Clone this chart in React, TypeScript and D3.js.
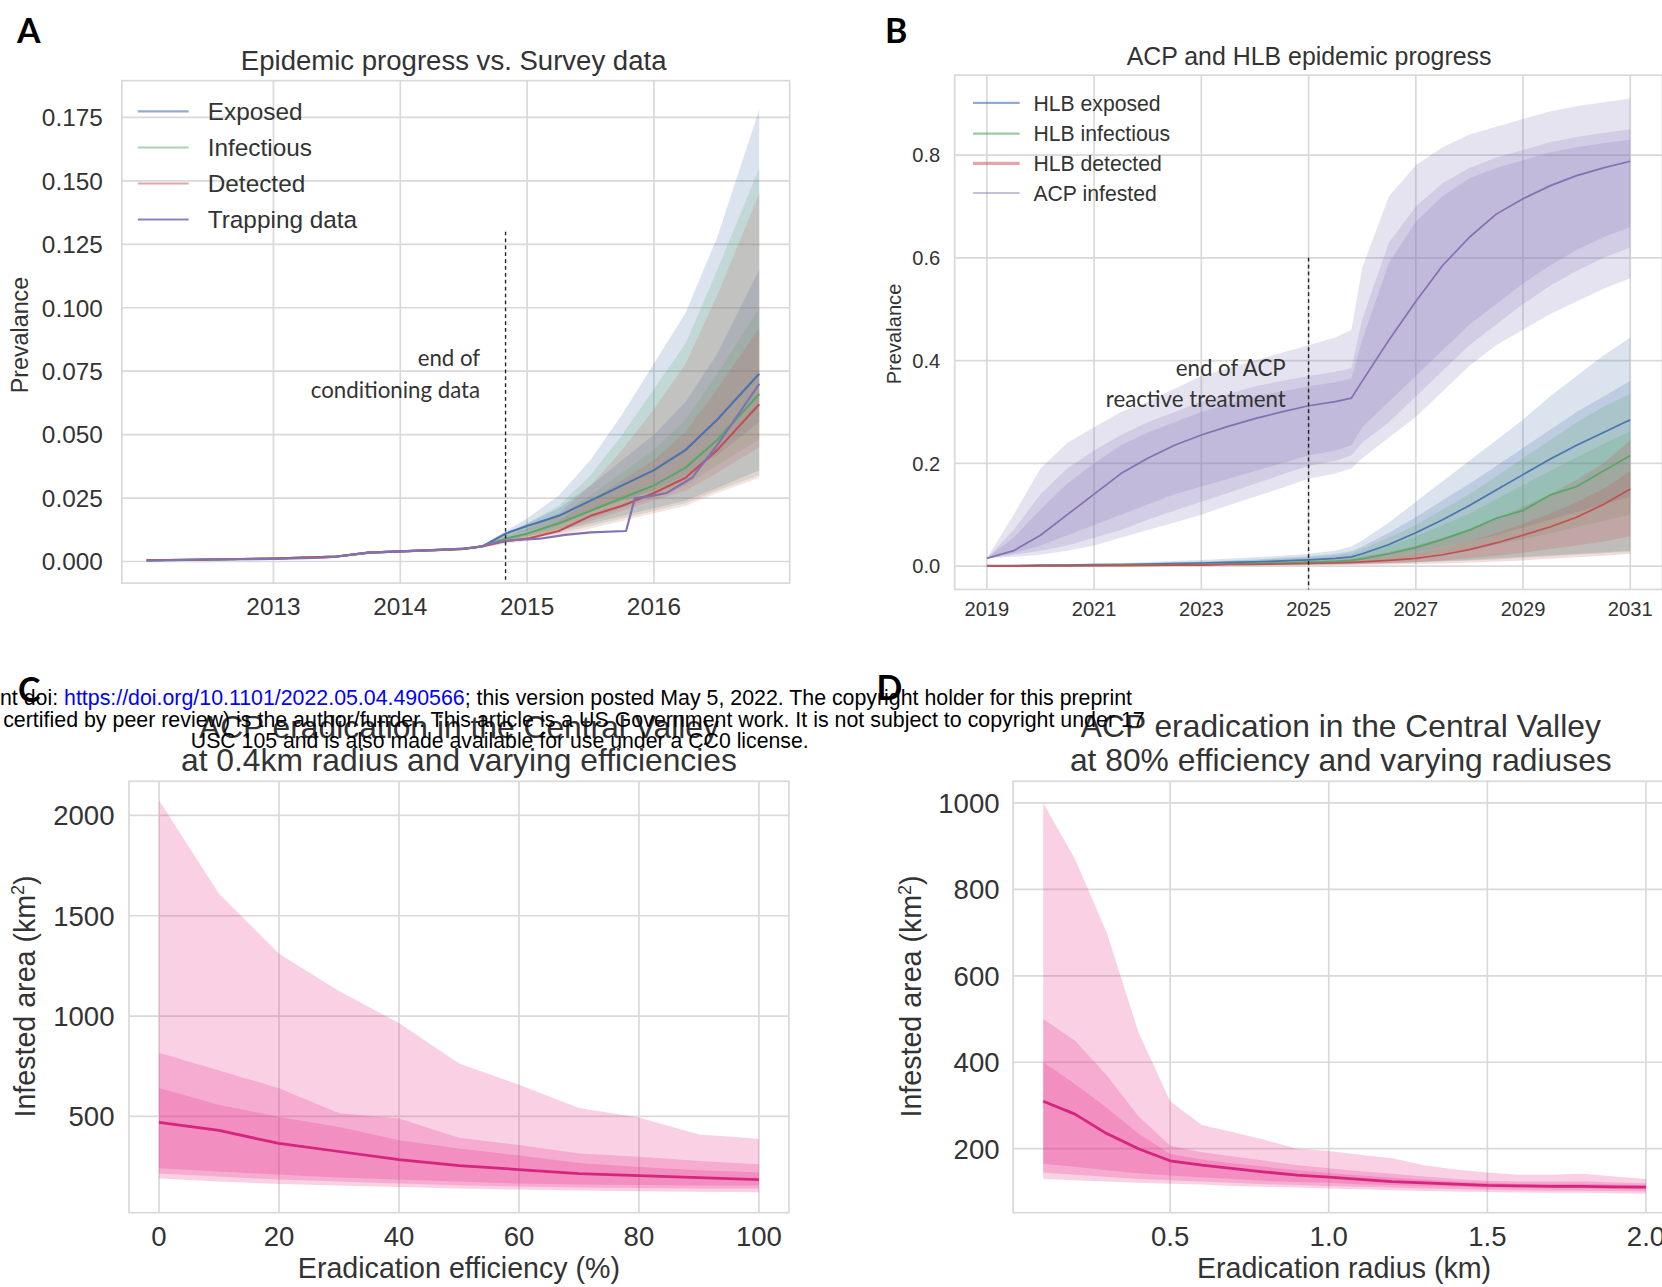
import React from 'react';
import * as d3 from 'd3';

// ---------- Panel A: epidemic progress vs. survey data ----------
const yearsA = [2012.0, 2012.5, 2013.0, 2013.5, 2013.75, 2014.0, 2014.5, 2014.65, 2014.83, 2015.0, 2015.25, 2015.5, 2015.75, 2016.0, 2016.25, 2016.5, 2016.83];

const exposedMedA = [0.0005, 0.0008, 0.0012, 0.002, 0.0035, 0.004, 0.005, 0.006, 0.011, 0.014, 0.018, 0.024, 0.030, 0.036, 0.044, 0.056, 0.074];
const exposedLo95A = [0.0005, 0.0008, 0.0012, 0.002, 0.0035, 0.004, 0.005, 0.0055, 0.008, 0.010, 0.012, 0.015, 0.018, 0.021, 0.024, 0.029, 0.036];
const exposedHi95A = [0.0005, 0.0008, 0.0012, 0.002, 0.0035, 0.004, 0.005, 0.0065, 0.012, 0.017, 0.026, 0.040, 0.058, 0.078, 0.098, 0.128, 0.178];
const exposedLo50A = [0.0005, 0.0008, 0.0012, 0.002, 0.0035, 0.004, 0.005, 0.006, 0.010, 0.012, 0.015, 0.020, 0.024, 0.028, 0.034, 0.042, 0.055];
const exposedHi50A = [0.0005, 0.0008, 0.0012, 0.002, 0.0035, 0.004, 0.005, 0.006, 0.011, 0.015, 0.021, 0.030, 0.040, 0.050, 0.063, 0.082, 0.115];

const infectiousMedA = [0.0005, 0.0008, 0.0012, 0.002, 0.0035, 0.004, 0.005, 0.006, 0.009, 0.011, 0.015, 0.020, 0.025, 0.030, 0.037, 0.048, 0.066];
const infectiousLo95A = [0.0005, 0.0008, 0.0012, 0.002, 0.0035, 0.004, 0.005, 0.0055, 0.008, 0.009, 0.011, 0.014, 0.017, 0.020, 0.023, 0.028, 0.034];
const infectiousHi95A = [0.0005, 0.0008, 0.0012, 0.002, 0.0035, 0.004, 0.005, 0.0065, 0.011, 0.015, 0.022, 0.034, 0.050, 0.068, 0.086, 0.115, 0.155];
const infectiousLo50A = [0.0005, 0.0008, 0.0012, 0.002, 0.0035, 0.004, 0.005, 0.006, 0.008, 0.010, 0.013, 0.017, 0.021, 0.025, 0.030, 0.038, 0.048];
const infectiousHi50A = [0.0005, 0.0008, 0.0012, 0.002, 0.0035, 0.004, 0.005, 0.006, 0.010, 0.013, 0.018, 0.026, 0.035, 0.044, 0.056, 0.074, 0.100];

const detectedMedA = [0.0005, 0.0008, 0.0012, 0.002, 0.0035, 0.004, 0.005, 0.006, 0.008, 0.009, 0.012, 0.018, 0.022, 0.027, 0.033, 0.044, 0.062];
const detectedLo95A = [0.0005, 0.0008, 0.0012, 0.002, 0.0035, 0.004, 0.005, 0.0055, 0.007, 0.008, 0.010, 0.013, 0.016, 0.019, 0.022, 0.027, 0.033];
const detectedHi95A = [0.0005, 0.0008, 0.0012, 0.002, 0.0035, 0.004, 0.005, 0.0065, 0.010, 0.013, 0.019, 0.030, 0.044, 0.060, 0.078, 0.105, 0.145];
const detectedLo50A = [0.0005, 0.0008, 0.0012, 0.002, 0.0035, 0.004, 0.005, 0.006, 0.008, 0.009, 0.012, 0.016, 0.020, 0.024, 0.028, 0.035, 0.045];
const detectedHi50A = [0.0005, 0.0008, 0.0012, 0.002, 0.0035, 0.004, 0.005, 0.006, 0.009, 0.011, 0.016, 0.024, 0.032, 0.040, 0.051, 0.068, 0.092];

const trapYearsA = [2012.0, 2012.5, 2013.0, 2013.4, 2013.5, 2013.75, 2014.0, 2014.3, 2014.6, 2014.75, 2014.9, 2015.1, 2015.3, 2015.5, 2015.78, 2015.85, 2016.0, 2016.1, 2016.3, 2016.5, 2016.83];
const trapValsA = [0.0003, 0.0008, 0.0010, 0.0015, 0.002, 0.0035, 0.004, 0.0045, 0.0055, 0.0075, 0.0085, 0.009, 0.0105, 0.0115, 0.012, 0.025, 0.026, 0.027, 0.033, 0.046, 0.070];

const xTicksA = [2013, 2014, 2015, 2016];
const yTicksA = [0, 0.025, 0.05, 0.075, 0.1, 0.125, 0.15, 0.175];

// ---------- Panel B: ACP and HLB epidemic progress ----------
const yearsB = [2019, 2019.5, 2020, 2020.5, 2021, 2021.5, 2022, 2022.5, 2023, 2023.5, 2024, 2024.5, 2025, 2025.5, 2025.8, 2026, 2026.5, 2027, 2027.5, 2028, 2028.5, 2029, 2029.5, 2030, 2030.5, 2031];

const acpMedB = [0.015, 0.03, 0.06, 0.10, 0.14, 0.18, 0.21, 0.235, 0.255, 0.272, 0.287, 0.30, 0.312, 0.32, 0.327, 0.36, 0.44, 0.515, 0.585, 0.64, 0.685, 0.715, 0.74, 0.76, 0.775, 0.788];
const acpLo95B = [0.015, 0.018, 0.022, 0.03, 0.04, 0.055, 0.07, 0.085, 0.10, 0.118, 0.135, 0.152, 0.17, 0.18, 0.19, 0.21, 0.25, 0.29, 0.34, 0.39, 0.43, 0.46, 0.49, 0.515, 0.54, 0.56];
const acpHi95B = [0.015, 0.10, 0.19, 0.24, 0.27, 0.30, 0.32, 0.345, 0.37, 0.385, 0.40, 0.415, 0.43, 0.445, 0.46, 0.58, 0.72, 0.78, 0.815, 0.84, 0.855, 0.87, 0.885, 0.895, 0.903, 0.91];
const acpLo80B = [0.015, 0.022, 0.03, 0.04, 0.055, 0.07, 0.09, 0.108, 0.125, 0.142, 0.16, 0.178, 0.195, 0.205, 0.215, 0.24, 0.28, 0.33, 0.38, 0.43, 0.47, 0.51, 0.545, 0.575, 0.60, 0.62];
const acpHi80B = [0.015, 0.07, 0.14, 0.19, 0.225, 0.255, 0.28, 0.30, 0.32, 0.335, 0.35, 0.36, 0.37, 0.378, 0.385, 0.48, 0.63, 0.70, 0.745, 0.775, 0.795, 0.81, 0.825, 0.835, 0.843, 0.85];
const acpLo50B = [0.015, 0.025, 0.04, 0.06, 0.08, 0.10, 0.12, 0.14, 0.155, 0.17, 0.185, 0.20, 0.215, 0.225, 0.235, 0.27, 0.32, 0.37, 0.42, 0.47, 0.51, 0.55, 0.585, 0.615, 0.64, 0.66];
const acpHi50B = [0.015, 0.055, 0.11, 0.16, 0.20, 0.235, 0.26, 0.28, 0.30, 0.315, 0.33, 0.34, 0.35, 0.358, 0.365, 0.44, 0.59, 0.67, 0.72, 0.755, 0.775, 0.79, 0.805, 0.815, 0.823, 0.83];

const hlbExposedMedB = [0.001, 0.001, 0.002, 0.002, 0.003, 0.003, 0.004, 0.005, 0.006, 0.007, 0.008, 0.010, 0.012, 0.015, 0.018, 0.024, 0.042, 0.065, 0.090, 0.118, 0.148, 0.178, 0.208, 0.235, 0.260, 0.285];
const hlbExposedLo95B = [0, 0, 0, 0, 0, 0, 0.001, 0.001, 0.001, 0.002, 0.002, 0.003, 0.003, 0.004, 0.004, 0.005, 0.006, 0.008, 0.010, 0.012, 0.015, 0.018, 0.021, 0.024, 0.027, 0.030];
const hlbExposedHi95B = [0.001, 0.002, 0.003, 0.004, 0.005, 0.006, 0.008, 0.010, 0.012, 0.014, 0.017, 0.020, 0.024, 0.030, 0.038, 0.050, 0.085, 0.125, 0.165, 0.205, 0.245, 0.285, 0.330, 0.370, 0.410, 0.445];
const hlbExposedLo50B = [0.0005, 0.0005, 0.001, 0.001, 0.0015, 0.002, 0.002, 0.003, 0.003, 0.004, 0.005, 0.006, 0.007, 0.008, 0.010, 0.012, 0.018, 0.026, 0.036, 0.048, 0.060, 0.075, 0.090, 0.105, 0.120, 0.135];
const hlbExposedHi50B = [0.001, 0.0015, 0.0025, 0.003, 0.004, 0.005, 0.006, 0.008, 0.009, 0.011, 0.013, 0.016, 0.019, 0.024, 0.029, 0.038, 0.065, 0.095, 0.128, 0.160, 0.195, 0.230, 0.265, 0.300, 0.330, 0.360];

const hlbInfectiousMedB = [0, 0.0005, 0.001, 0.001, 0.0015, 0.002, 0.002, 0.003, 0.003, 0.004, 0.005, 0.006, 0.007, 0.009, 0.011, 0.014, 0.024, 0.036, 0.052, 0.070, 0.093, 0.108, 0.138, 0.155, 0.185, 0.215];
const hlbInfectiousLo95B = [0, 0, 0, 0, 0, 0, 0.0005, 0.001, 0.001, 0.001, 0.002, 0.002, 0.002, 0.003, 0.003, 0.004, 0.005, 0.007, 0.009, 0.011, 0.013, 0.016, 0.019, 0.022, 0.025, 0.028];
const hlbInfectiousHi95B = [0.001, 0.001, 0.002, 0.003, 0.004, 0.005, 0.006, 0.007, 0.008, 0.010, 0.012, 0.014, 0.017, 0.021, 0.025, 0.033, 0.055, 0.080, 0.110, 0.140, 0.175, 0.210, 0.245, 0.280, 0.310, 0.335];
const hlbInfectiousLo50B = [0, 0.0005, 0.0005, 0.001, 0.001, 0.0015, 0.0015, 0.002, 0.002, 0.003, 0.003, 0.004, 0.005, 0.006, 0.007, 0.009, 0.012, 0.017, 0.024, 0.032, 0.042, 0.052, 0.064, 0.076, 0.088, 0.100];
const hlbInfectiousHi50B = [0.0005, 0.001, 0.0015, 0.002, 0.003, 0.003, 0.004, 0.005, 0.006, 0.007, 0.008, 0.010, 0.012, 0.015, 0.018, 0.024, 0.040, 0.058, 0.080, 0.102, 0.130, 0.158, 0.185, 0.212, 0.238, 0.262];

const hlbDetectedMedB = [0, 0, 0.0005, 0.0005, 0.001, 0.001, 0.0015, 0.002, 0.002, 0.003, 0.003, 0.004, 0.005, 0.006, 0.007, 0.008, 0.011, 0.015, 0.022, 0.032, 0.045, 0.060, 0.076, 0.095, 0.120, 0.150];
const hlbDetectedLo95B = [0, 0, 0, 0, 0, 0, 0, 0.0005, 0.0005, 0.001, 0.001, 0.001, 0.0015, 0.002, 0.002, 0.0025, 0.003, 0.004, 0.005, 0.007, 0.009, 0.011, 0.014, 0.017, 0.020, 0.024];
const hlbDetectedHi95B = [0.0005, 0.001, 0.0015, 0.002, 0.002, 0.003, 0.003, 0.004, 0.005, 0.006, 0.007, 0.008, 0.010, 0.012, 0.014, 0.018, 0.028, 0.040, 0.055, 0.072, 0.092, 0.115, 0.140, 0.168, 0.200, 0.245];
const hlbDetectedLo50B = [0, 0, 0, 0.0005, 0.0005, 0.0005, 0.001, 0.001, 0.001, 0.0015, 0.002, 0.002, 0.003, 0.003, 0.004, 0.004, 0.006, 0.008, 0.011, 0.015, 0.020, 0.026, 0.033, 0.040, 0.048, 0.058];
const hlbDetectedHi50B = [0, 0.0005, 0.001, 0.001, 0.0015, 0.002, 0.002, 0.003, 0.003, 0.004, 0.005, 0.006, 0.007, 0.008, 0.010, 0.012, 0.018, 0.025, 0.035, 0.048, 0.064, 0.082, 0.102, 0.124, 0.150, 0.185];

const xTicksB = [2019, 2021, 2023, 2025, 2027, 2029, 2031];
const yTicksB = [0, 0.2, 0.4, 0.6, 0.8];

// ---------- Panel C: eradication at 0.4 km, varying efficiency ----------
const effC = [0, 10, 20, 30, 40, 50, 60, 70, 80, 90, 100];
const medC = [470, 430, 365, 325, 285, 255, 235, 215, 205, 195, 185];
const hi95C = [2076, 1610, 1310, 1125, 965, 764, 658, 542, 495, 410, 389];
const hi80C = [817, 729, 640, 515, 489, 394, 357, 315, 299, 278, 262];
const hi50C = [641, 557, 497, 447, 381, 340, 305, 268, 248, 232, 220];
const lo50C = [241, 225, 210, 195, 185, 175, 165, 160, 158, 156, 155];
const lo80C = [215, 200, 185, 175, 165, 157, 150, 146, 143, 141, 140];
const lo95C = [190, 175, 163, 155, 148, 140, 135, 130, 127, 124, 122];
const xTicksC = [0, 20, 40, 60, 80, 100];
const yTicksC = [500, 1000, 1500, 2000];

// ---------- Panel D: eradication at 80 %, varying radius ----------
const radD = [0.1, 0.2, 0.3, 0.4, 0.5, 0.6, 0.7, 0.8, 0.9, 1.0, 1.1, 1.2, 1.3, 1.4, 1.5, 1.6, 1.7, 1.8, 1.9, 2.0];
const medD = [310, 280, 235, 200, 172, 162, 154, 146, 139, 134, 129, 124, 121, 118, 115, 114, 113, 113, 112, 111];
const hi95D = [1000, 870, 700, 470, 310, 255, 238, 220, 200, 195, 186, 178, 162, 152, 145, 140, 140, 142, 136, 130];
const hi80D = [500, 450, 370, 275, 207, 192, 182, 172, 162, 155, 148, 142, 136, 130, 126, 124, 124, 125, 122, 120];
const hi50D = [400, 350, 295, 235, 188, 175, 166, 158, 150, 144, 138, 133, 128, 124, 121, 119, 119, 119, 117, 116];
const lo50D = [165, 158, 150, 143, 138, 134, 130, 126, 123, 121, 118, 116, 114, 112, 110, 109, 108, 108, 107, 106];
const lo80D = [145, 140, 135, 130, 127, 124, 121, 118, 116, 114, 112, 110, 108, 107, 105, 104, 103, 103, 102, 101];
const lo95D = [130, 127, 124, 121, 119, 117, 114, 112, 110, 108, 106, 104, 102, 101, 100, 99, 98, 98, 97, 96];
const xTicksD = [0.5, 1.0, 1.5, 2.0];
const yTicksD = [200, 400, 600, 800, 1000];

// ---------- styling ----------
const FONT = '"Liberation Sans", Arial, sans-serif';
const ANNOT_FONT = 'Lato, "Open Sans", sans-serif';
const TEXT = '#333333';
const GRID = '#d9d9d9';
const BLUE = '#4C72B0';
const GREEN = '#55A868';
const RED = '#C44E52';
const PURPLE = '#8172B2';
const PINK = '#e7298a';
const PINK_LINE = '#d6247f';

type Band = [number[], number[]];
interface Series {
  xs: number[];
  med: number[];
  bands: Band[];
  color: string;
  lineColor?: string;
  bandOpacity: number;
  lineWidth: number;
}
interface LegendItem { label: string; color: string; opacity: number; width: number }
interface PanelCfg {
  xDomain: [number, number]; xRange: [number, number];
  yDomain: [number, number]; yRange: [number, number];
  xTicks: number[]; yTicks: number[];
  xFmt: (v: number) => string; yFmt: (v: number) => string;
  tickSize: number; yTickX: number; xTickY: number;
  series: Series[];
  title: string[]; titleX: number; titleY: number[]; titleSize: number;
  yLabel: string; yLabelSup?: boolean; yLabelX: number; yLabelY: number; yLabelSize: number;
  xLabel?: string; xLabelX?: number; xLabelY?: number; xLabelSize?: number;
  letter: string; letterX: number; letterY: number;
  vline?: { at: number; top: number; text: string[]; textX: number; textY: number[] };
  legend?: { x0: number; x1: number; tx: number; ys: number[]; size: number; items: LegendItem[] };
}

const panels: PanelCfg[] = [
  {
    xDomain: [2011.805, 2017.07], xRange: [115, 745],
    yDomain: [-0.0085, 0.1895], yRange: [550, 76],
    xTicks: xTicksA, yTicks: yTicksA,
    xFmt: d => String(d), yFmt: d3.format('.3f'),
    tickSize: 23, yTickX: 97, xTickY: 580,
    series: [
      { xs: yearsA, med: exposedMedA, bands: [[exposedLo95A, exposedHi95A], [exposedLo50A, exposedHi50A]], color: BLUE, bandOpacity: 0.2, lineWidth: 2 },
      { xs: yearsA, med: infectiousMedA, bands: [[infectiousLo95A, infectiousHi95A], [infectiousLo50A, infectiousHi50A]], color: GREEN, bandOpacity: 0.18, lineWidth: 2 },
      { xs: yearsA, med: detectedMedA, bands: [[detectedLo95A, detectedHi95A], [detectedLo50A, detectedHi50A]], color: RED, bandOpacity: 0.16, lineWidth: 2 },
      { xs: trapYearsA, med: trapValsA, bands: [], color: PURPLE, bandOpacity: 0, lineWidth: 2 },
    ],
    title: ['Epidemic progress vs. Survey data'], titleX: 428, titleY: [66], titleSize: 26,
    yLabel: 'Prevalance', yLabelX: 26, yLabelY: 316, yLabelSize: 22,
    letter: 'A', letterX: 16, letterY: 40,
    vline: { at: 2014.83, top: 0.13, text: ['end of', 'conditioning data'], textX: 453, textY: [345, 375] },
    legend: {
      x0: 130, x1: 178, tx: 196, ys: [105, 139, 173, 207], size: 23,
      items: [
        { label: 'Exposed', color: BLUE, opacity: 0.6, width: 2 },
        { label: 'Infectious', color: GREEN, opacity: 0.5, width: 2 },
        { label: 'Detected', color: RED, opacity: 0.5, width: 2 },
        { label: 'Trapping data', color: PURPLE, opacity: 0.9, width: 2 },
      ],
    },
  },
  {
    xDomain: [2018.4, 2031.6], xRange: [900.7, 1568.4],
    yDomain: [-0.0455, 0.9555], yRange: [556, 70.8],
    xTicks: xTicksB, yTicks: yTicksB,
    xFmt: d => String(d), yFmt: d3.format('.1f'),
    tickSize: 19, yTickX: 887, xTickY: 581,
    series: [
      { xs: yearsB, med: acpMedB, bands: [[acpLo95B, acpHi95B], [acpLo80B, acpHi80B], [acpLo50B, acpHi50B]], color: PURPLE, bandOpacity: 0.2, lineWidth: 1.6 },
      { xs: yearsB, med: hlbExposedMedB, bands: [[hlbExposedLo95B, hlbExposedHi95B], [hlbExposedLo50B, hlbExposedHi50B]], color: BLUE, bandOpacity: 0.2, lineWidth: 1.6 },
      { xs: yearsB, med: hlbInfectiousMedB, bands: [[hlbInfectiousLo95B, hlbInfectiousHi95B], [hlbInfectiousLo50B, hlbInfectiousHi50B]], color: GREEN, bandOpacity: 0.2, lineWidth: 1.6 },
      { xs: yearsB, med: hlbDetectedMedB, bands: [[hlbDetectedLo95B, hlbDetectedHi95B], [hlbDetectedLo50B, hlbDetectedHi50B]], color: RED, bandOpacity: 0.2, lineWidth: 1.6 },
    ],
    title: ['ACP and HLB epidemic progress'], titleX: 1235, titleY: [61], titleSize: 23.5,
    yLabel: 'Prevalance', yLabelX: 850, yLabelY: 315, yLabelSize: 19,
    letter: 'B', letterX: 835, letterY: 40,
    vline: { at: 2025, top: 0.6, text: ['end of ACP', 'reactive treatment'], textX: 1213, textY: [355, 384] },
    legend: {
      x0: 918, x1: 962, tx: 975, ys: [97, 126, 154, 182], size: 20,
      items: [
        { label: 'HLB exposed', color: BLUE, opacity: 0.6, width: 2 },
        { label: 'HLB infectious', color: GREEN, opacity: 0.6, width: 2 },
        { label: 'HLB detected', color: RED, opacity: 0.5, width: 3 },
        { label: 'ACP infested', color: PURPLE, opacity: 0.45, width: 2 },
      ],
    },
  },
  {
    xDomain: [-5, 105], xRange: [121.7, 744.3],
    yDomain: [20, 2170], yRange: [1144, 737],
    xTicks: xTicksC, yTicks: yTicksC,
    xFmt: d3.format('d'), yFmt: d3.format('d'),
    tickSize: 26, yTickX: 108, xTickY: 1175,
    series: [
      { xs: effC, med: medC, bands: [[lo95C, hi95C], [lo80C, hi80C], [lo50C, hi50C]], color: PINK, lineColor: PINK_LINE, bandOpacity: 0.22, lineWidth: 2.6 },
    ],
    title: ['ACP eradication in the Central Valley', 'at 0.4km radius and varying efficiencies'], titleX: 433, titleY: [696, 727], titleSize: 30,
    yLabel: 'Infested area (km', yLabelSup: true, yLabelX: 33, yLabelY: 940, yLabelSize: 27,
    xLabel: 'Eradication efficiency (%)', xLabelX: 433, xLabelY: 1206, xLabelSize: 27,
    letter: 'C', letterX: 17, letterY: 662,
  },
  {
    xDomain: [0.005, 2.095], xRange: [955.8, 1581.3],
    yDomain: [52, 1050], yRange: [1144, 737],
    xTicks: xTicksD, yTicks: yTicksD,
    xFmt: d3.format('.1f'), yFmt: d3.format('d'),
    tickSize: 26, yTickX: 943, xTickY: 1175,
    series: [
      { xs: radD, med: medD, bands: [[lo95D, hi95D], [lo80D, hi80D], [lo50D, hi50D]], color: PINK, lineColor: PINK_LINE, bandOpacity: 0.22, lineWidth: 2.6 },
    ],
    title: ['ACP eradication in the Central Valley', 'at 80% efficiency and varying radiuses'], titleX: 1265, titleY: [695, 727], titleSize: 30,
    yLabel: 'Infested area (km', yLabelSup: true, yLabelX: 869, yLabelY: 940, yLabelSize: 27,
    xLabel: 'Eradication radius (km)', xLabelX: 1268, xLabelY: 1206, xLabelSize: 27,
    letter: 'D', letterX: 827, letterY: 660,
  },
];

function Panel({ cfg }: { cfg: PanelCfg }) {
  const x = d3.scaleLinear().domain(cfg.xDomain).range(cfg.xRange);
  const y = d3.scaleLinear().domain(cfg.yDomain).range(cfg.yRange);
  const [left, right] = cfg.xRange;
  const [bottom, top] = cfg.yRange;

  const area = (xs: number[], lo: number[], hi: number[]) =>
    d3.area<number>()
      .x(d => x(d))
      .y0((_, i) => y(lo[i]))
      .y1((_, i) => y(hi[i]))(xs) as string;
  const line = (xs: number[], ys: number[]) =>
    d3.line<number>()
      .x(d => x(d))
      .y((_, i) => y(ys[i]))(xs) as string;

  return (
    <g fontFamily={FONT} fill={TEXT}>
      {/* grid + frame */}
      {cfg.xTicks.map(t => (
        <line key={`gx${t}`} x1={x(t)} x2={x(t)} y1={top} y2={bottom} stroke={GRID} strokeWidth={1.6} />
      ))}
      {cfg.yTicks.map(t => (
        <line key={`gy${t}`} x1={left} x2={right} y1={y(t)} y2={y(t)} stroke={GRID} strokeWidth={1.6} />
      ))}
      <rect x={left} y={top} width={right - left} height={bottom - top} fill="none" stroke={GRID} strokeWidth={1.6} />

      {/* percentile bands, then medians */}
      {cfg.series.map((s, si) => s.bands.map((b, bi) => (
        <path key={`b${si}-${bi}`} d={area(s.xs, b[0], b[1])} fill={s.color} fillOpacity={s.bandOpacity} stroke="none" />
      )))}
      {cfg.series.map((s, si) => (
        <path key={`l${si}`} d={line(s.xs, s.med)} fill="none" stroke={s.lineColor ?? s.color}
          strokeWidth={s.lineWidth} strokeLinejoin="round" />
      ))}

      {cfg.vline && (
        <g>
          <line x1={x(cfg.vline.at)} x2={x(cfg.vline.at)} y1={y(cfg.vline.top)} y2={bottom}
            stroke="#222" strokeWidth={1.3} strokeDasharray="3.5 3" />
          {cfg.vline.text.map((t, i) => (
            <text key={t} x={cfg.vline!.textX} y={cfg.vline!.textY[i]} textAnchor="end"
              fontFamily={ANNOT_FONT} fontSize={21} fill="#333">{t}</text>
          ))}
        </g>
      )}

      {/* tick labels */}
      {cfg.yTicks.map(t => (
        <text key={`ty${t}`} x={cfg.yTickX} y={y(t)} dy="0.36em" textAnchor="end" fontSize={cfg.tickSize}>
          {cfg.yFmt(t)}
        </text>
      ))}
      {cfg.xTicks.map(t => (
        <text key={`tx${t}`} x={x(t)} y={cfg.xTickY} textAnchor="middle" fontSize={cfg.tickSize}>
          {cfg.xFmt(t)}
        </text>
      ))}

      {/* titles and labels */}
      {cfg.title.map((t, i) => (
        <text key={t} x={cfg.titleX} y={cfg.titleY[i]} textAnchor="middle" fontSize={cfg.titleSize}>{t}</text>
      ))}
      <text transform={`translate(${cfg.yLabelX},${cfg.yLabelY}) rotate(-90)`} textAnchor="middle" fontSize={cfg.yLabelSize}>
        {cfg.yLabel}
        {cfg.yLabelSup && <tspan dy={-10} fontSize={17}>2</tspan>}
        {cfg.yLabelSup && <tspan dy={10}>)</tspan>}
      </text>
      {cfg.xLabel && (
        <text x={cfg.xLabelX} y={cfg.xLabelY} textAnchor="middle" fontSize={cfg.xLabelSize}>{cfg.xLabel}</text>
      )}

      {cfg.legend && cfg.legend.items.map((it, i) => (
        <g key={it.label}>
          <line x1={cfg.legend!.x0} x2={cfg.legend!.x1} y1={cfg.legend!.ys[i]} y2={cfg.legend!.ys[i]}
            stroke={it.color} strokeOpacity={it.opacity} strokeWidth={it.width} />
          <text x={cfg.legend!.tx} y={cfg.legend!.ys[i]} dy="0.36em" fontSize={cfg.legend!.size}>{it.label}</text>
        </g>
      ))}

      <text x={cfg.letterX} y={cfg.letterY} fontFamily={ANNOT_FONT} fontWeight={700} fontSize={32} fill="#000">
        {cfg.letter}
      </text>
    </g>
  );
}

export default function App() {
  return (
    <svg width={1662} height={1287} viewBox="0 0 1568 1214"
      style={{ position: 'absolute', left: 0, top: 0, background: '#fff' }}>
      <rect x={0} y={0} width={1568} height={1214} fill="#fff" />
      {panels.map((p, i) => <Panel key={i} cfg={p} />)}

      {/* preprint header stamped over the figure */}
      <g fontFamily={FONT} fontSize={20} fill="#000">
        <text x={0} y={665} textLength={1068} lengthAdjust="spacingAndGlyphs">
          {'nt doi: '}
          <tspan fill="#0000ff">https://doi.org/10.1101/2022.05.04.490566</tspan>
          {'; this version posted May 5, 2022. The copyright holder for this preprint'}
        </text>
        <text x={3} y={686} textLength={1077} lengthAdjust="spacingAndGlyphs">
          certified by peer review) is the author/funder. This article is a US Government work. It is not subject to copyright under 17
        </text>
        <text x={180} y={706} textLength={583} lengthAdjust="spacingAndGlyphs">
          USC 105 and is also made available for use under a CC0 license.
        </text>
      </g>
    </svg>
  );
}
